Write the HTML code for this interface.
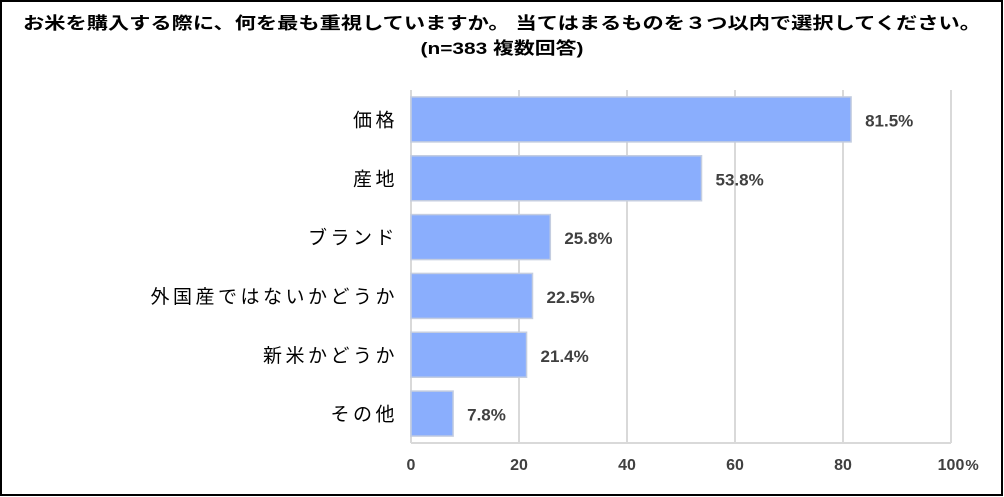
<!DOCTYPE html>
<html><head><meta charset="utf-8"><style>
body{margin:0;background:#fff}
svg{display:block}
text{font-family:"Liberation Sans","Noto Sans CJK JP",sans-serif}
</style></head><body>
<svg id="chart" width="1004" height="497">
<rect x="1" y="1" width="1001" height="494" fill="#fff" stroke="#000" stroke-width="2"/>
<text x="502" y="29" text-anchor="middle" font-size="17" font-weight="bold" textLength="958" lengthAdjust="spacingAndGlyphs">お米を購入する際に、何を最も重視していますか。 当てはまるものを３つ以内で選択してください。</text>
<text x="502" y="54" text-anchor="middle" font-size="17" font-weight="bold" textLength="163" lengthAdjust="spacingAndGlyphs">(n=383 複数回答)</text>
<g id="grid"></g><g id="bars"></g><g id="labels"></g>
</svg>
<script>
const categories=["価格","産地","ブランド","外国産ではないかどうか","新米かどうか","その他"];
const values=[81.5,53.8,25.8,22.5,21.4,7.8];
const ticks=[0,20,40,60,80,100];
const NS="http://www.w3.org/2000/svg";
const x0=411,x1=951,yTop=90,yBot=443;
const xs=v=>x0+(v/100)*(x1-x0);
const band=(yBot-yTop)/categories.length;
function mk(tag,attrs,parent,txt){const e=document.createElementNS(NS,tag);for(const k in attrs)e.setAttribute(k,attrs[k]);if(txt!==undefined)e.textContent=txt;parent.appendChild(e);return e;}
const grid=document.getElementById('grid'),bars=document.getElementById('bars'),labels=document.getElementById('labels');
ticks.forEach(t=>{
  const l=mk('line',{x1:xs(t),x2:xs(t),y1:yTop,y2:yBot,stroke:'#d9d9d9','stroke-width':2},grid);
  
  
  const tx=mk('text',{x:xs(t),y:470,'text-anchor':'middle','font-size':16,'font-weight':'bold',fill:'#404040'},labels,String(t));
  
  
});
const base=mk('line',{x1:x0,x2:x1,y1:yBot,y2:yBot,stroke:'#d9d9d9','stroke-width':2},grid);


const pct=mk('text',{x:972,y:470,'text-anchor':'middle','font-size':15,'font-weight':'bold',fill:'#404040'},labels,'%');


categories.forEach((c,i)=>{
  const cy=yTop+band*(i+0.5),h=45;
  const r=mk('rect',{x:x0,y:cy-h/2,width:xs(values[i])-x0,height:h,fill:'#8aaefd',stroke:'#c4cde0','stroke-width':1.5},bars);
  
  
  const cl=mk('text',{x:398,y:cy+7,'text-anchor':'end','font-size':19,'letter-spacing':3.5,fill:'#000'},labels,c);
  
  
  const vl=mk('text',{x:xs(values[i])+14,y:cy+7,'font-size':17,'font-weight':'bold',fill:'#404040','font-family':'"Liberation Mono",monospace'},labels,values[i].toFixed(1)+'%');
  
  
});
</script>
</body></html>
